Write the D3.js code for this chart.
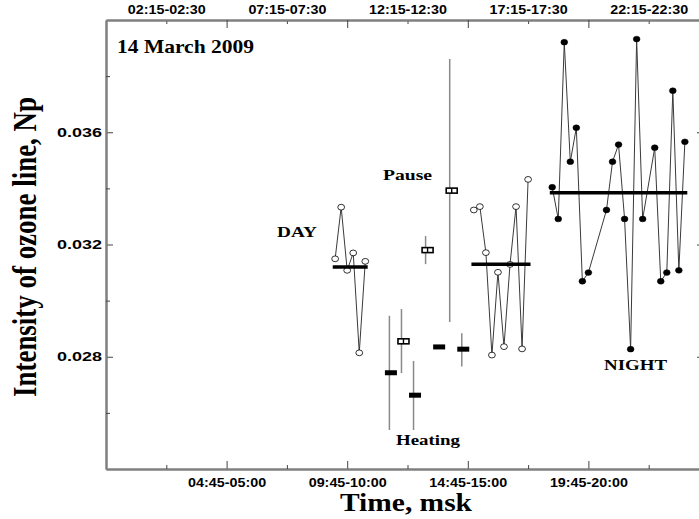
<!DOCTYPE html>
<head>
	<meta charset="utf-8">
	<script type="text/javascript" src="https://cdn.jsdelivr.net/npm/d3@7"></script>
	<style>
		body { margin: 0; background: #fff; }
	</style>
</head>
<body>
	<script type="text/javascript">

	// start of each 15-min interval, hours msk
	var dayTimes = [9.25, 9.5, 9.75, 10.0, 10.25, 10.5];
	var dayValues = [0.03149, 0.03333, 0.03108, 0.03170, 0.02814, 0.03140];
	var dayMean = 0.0312;

	var heatTimes = [11.5, 12.5, 13.5, 14.5];
	var heatValues = [0.02743, 0.02663, 0.02835, 0.02827];
	var heatLow = [0.02539, 0.02539, 0.02835, 0.02765];
	var heatHigh = [0.02946, 0.02785, 0.02835, 0.02884];

	var pauseTimes = [12.0, 13.0, 14.0];
	var pauseValues = [0.02855, 0.0318, 0.03392];
	var pauseLow = [0.02742, 0.0313, 0.02924];
	var pauseHigh = [0.0297, 0.0323, 0.03861];

	var pmTimes = [15.0, 15.25, 15.5, 15.75, 16.0, 16.25, 16.5, 16.75, 17.0, 17.25];
	var pmValues = [0.03323, 0.03335, 0.03171, 0.02806, 0.03101, 0.02836, 0.03129, 0.03335, 0.02828, 0.03432];
	var pmMean = 0.0313;

	var nightTimes = [18.25, 18.5, 18.75, 19.0, 19.25, 19.5, 19.75, 20.5, 20.75, 21.0,
		21.25, 21.5, 21.75, 22.0, 22.5, 22.75, 23.0, 23.25, 23.5, 23.75];
	var nightValues = [0.03404, 0.03291, 0.03921, 0.03495, 0.03616, 0.03069, 0.0310, 0.03323, 0.03495, 0.03556,
		0.03291, 0.02827, 0.03932, 0.03291, 0.03545, 0.03069, 0.0310, 0.03748, 0.03108, 0.03566];
	var nightMean = 0.03384;

	var bottomTicks = [4.75, 9.75, 14.75, 19.75];
	var bottomLabels = ["04:45-05:00", "09:45-10:00", "14:45-15:00", "19:45-20:00"];
	var topTicks = [2.25, 7.25, 12.25, 17.25, 22.25];
	var topLabels = ["02:15-02:30", "07:15-07:30", "12:15-12:30", "17:15-17:30", "22:15-22:30"];
	var yTicks = [0.028, 0.032, 0.036];
	var yMinor = [0.026, 0.030, 0.034, 0.038];

	var w = 699;
	var h = 519;
	var padL = 106, padT = 20, padR = 709, padB = 469;

	var svg = d3.select("body")
	.append("svg")
	.attr("width", w)
	.attr("height", h);

	var xscale = d3.scaleLinear()
	.domain([-0.25, 24.75])
	.range([padL, padR]);

	var yscale = d3.scaleLinear()
	.domain([0.024, 0.040])
	.range([padB, padT]);

	var sans = "'Liberation Sans', Arial, sans-serif";
	var serif = "'Liberation Serif', 'Times New Roman', serif";

	function styleAxis(g, len) {
		g.select(".domain").attr("stroke", "#808080").attr("stroke-width", 2);
		g.selectAll(".tick line").attr("stroke", "#444").attr("stroke-width", 1);
		g.selectAll(".tick text")
		.attr("font-family", sans)
		.attr("font-weight", "bold")
		.attr("font-size", 12)
		.attr("fill", "#000")
		.attr("textLength", len)
		.attr("lengthAdjust", "spacingAndGlyphs");
	}

	// bottom axis
	var gb = svg.append("g").attr("transform", "translate(0," + padB + ")")
	.call(d3.axisBottom(xscale).tickValues(bottomTicks)
		.tickFormat(function(d){ return bottomLabels[bottomTicks.indexOf(d)]; })
		.tickSizeInner(-8).tickSizeOuter(0).tickPadding(9));
	styleAxis(gb, 78);
	var gb2 = svg.append("g").attr("transform", "translate(0," + padB + ")")
	.call(d3.axisBottom(xscale).tickValues(topTicks).tickFormat("").tickSizeInner(-4).tickSizeOuter(0));
	styleAxis(gb2, 0);

	// top axis, labels sit on the short ticks
	var gt = svg.append("g").attr("transform", "translate(0," + padT + ")")
	.call(d3.axisTop(xscale).tickValues(topTicks)
		.tickFormat(function(d){ return topLabels[topTicks.indexOf(d)]; })
		.tickSizeInner(-4).tickSizeOuter(0).tickPadding(6));
	styleAxis(gt, 78);
	var gt2 = svg.append("g").attr("transform", "translate(0," + padT + ")")
	.call(d3.axisTop(xscale).tickValues(bottomTicks).tickFormat("").tickSizeInner(-8).tickSizeOuter(0));
	styleAxis(gt2, 0);

	// left axis
	var gl = svg.append("g").attr("transform", "translate(" + padL + ",0)")
	.call(d3.axisLeft(yscale).tickValues(yTicks).tickFormat(d3.format(".3f"))
		.tickSizeInner(-7).tickSizeOuter(0).tickPadding(4));
	styleAxis(gl, 45);
	var gl2 = svg.append("g").attr("transform", "translate(" + padL + ",0)")
	.call(d3.axisLeft(yscale).tickValues(yMinor).tickFormat("").tickSizeInner(-4).tickSizeOuter(0));
	styleAxis(gl2, 0);

	// right axis (mostly off the picture)
	var gr = svg.append("g").attr("transform", "translate(" + padR + ",0)")
	.call(d3.axisRight(yscale).tickValues(yTicks).tickFormat("").tickSizeInner(-12).tickSizeOuter(0));
	styleAxis(gr, 0);

	svg.selectAll(".tick text").filter(function(){ return this.textContent == ""; }).remove();

	var line = d3.line()
	.x(function(d){ return xscale(d[0]); })
	.y(function(d){ return yscale(d[1]); });

	function pairs(times, values) {
		return times.map(function(t, i){ return [t, values[i]]; });
	}

	function drawSeries(times, values, filled) {
		var pts = pairs(times, values);
		svg.append("path")
		.datum(pts)
		.attr("d", line)
		.attr("fill", "none")
		.attr("stroke", "#3a3a3a")
		.attr("stroke-width", 1);

		svg.append("g").selectAll("ellipse")
		.data(pts)
		.enter()
		.append("ellipse")
		.attr("cx", function(d){ return xscale(d[0]); })
		.attr("cy", function(d){ return yscale(d[1]); })
		.attr("rx", 3.4)
		.attr("ry", 2.9)
		.attr("fill", filled ? "#000" : "#fff")
		.attr("stroke", "#000")
		.attr("stroke-width", filled ? 0.5 : 0.8);
	}

	function drawMean(times, mean) {
		svg.append("line")
		.attr("x1", xscale(times[0] - 0.1))
		.attr("x2", xscale(times[times.length - 1] + 0.1))
		.attr("y1", yscale(mean))
		.attr("y2", yscale(mean))
		.attr("stroke", "#000")
		.attr("stroke-width", 3.5);
	}

	function drawErr(times, lo, hi) {
		svg.append("g").selectAll("line")
		.data(times)
		.enter()
		.append("line")
		.attr("x1", function(d){ return xscale(d); })
		.attr("x2", function(d){ return xscale(d); })
		.attr("y1", function(d, i){ return yscale(lo[i]); })
		.attr("y2", function(d, i){ return yscale(hi[i]); })
		.attr("stroke", "#8a8a8a")
		.attr("stroke-width", 1.5);
	}

	drawSeries(dayTimes, dayValues, false);
	drawMean(dayTimes, dayMean);

	drawSeries(pmTimes, pmValues, false);
	drawMean(pmTimes, pmMean);

	drawSeries(nightTimes, nightValues, true);
	drawMean(nightTimes, nightMean);

	// heating: black bars
	drawErr(heatTimes, heatLow, heatHigh);
	svg.append("g").selectAll("rect")
	.data(pairs(heatTimes, heatValues))
	.enter()
	.append("rect")
	.attr("x", function(d){ return xscale(d[0]) - 4.5; })
	.attr("y", function(d){ return yscale(d[1]) - 2.5; })
	.attr("width", 12)
	.attr("height", 5)
	.attr("fill", "#000");

	// pause: open double boxes
	drawErr(pauseTimes, pauseLow, pauseHigh);
	var pg = svg.append("g").selectAll("g")
	.data(pairs(pauseTimes, pauseValues))
	.enter()
	.append("g")
	.attr("transform", function(d){ return "translate(" + (xscale(d[0]) + 2) + "," + yscale(d[1]) + ")"; });
	pg.append("rect")
	.attr("x", -5.5)
	.attr("y", -2.5)
	.attr("width", 11)
	.attr("height", 5)
	.attr("fill", "#fff")
	.attr("stroke", "#000")
	.attr("stroke-width", 1.6);
	pg.append("line")
	.attr("x1", 0).attr("x2", 0)
	.attr("y1", -2.5).attr("y2", 2.5)
	.attr("stroke", "#000")
	.attr("stroke-width", 1.4);

	// labels
	function label(txt, x, y, size, len) {
		svg.append("text")
		.text(txt)
		.attr("x", x)
		.attr("y", y)
		.attr("font-family", serif)
		.attr("font-weight", "bold")
		.attr("font-size", size)
		.attr("textLength", len)
		.attr("lengthAdjust", "spacingAndGlyphs")
		.attr("fill", "#000");
	}

	label("14 March 2009", 117, 53, 19, 137);
	label("DAY", 277, 237, 14, 40);
	label("Pause", 383, 180, 14, 49);
	label("Heating", 396, 445, 14, 64);
	label("NIGHT", 604, 370, 14, 63);

	svg.append("text")
	.text("Time, msk")
	.attr("x", 406)
	.attr("y", 511)
	.attr("text-anchor", "middle")
	.attr("font-family", serif)
	.attr("font-weight", "bold")
	.attr("font-size", 25)
	.attr("textLength", 132)
	.attr("lengthAdjust", "spacingAndGlyphs");

	svg.append("text")
	.text("Intensity of ozone line, Np")
	.attr("transform", "translate(36,247) rotate(-90)")
	.attr("text-anchor", "middle")
	.attr("font-family", serif)
	.attr("font-weight", "bold")
	.attr("font-size", 33)
	.attr("textLength", 300)
	.attr("lengthAdjust", "spacingAndGlyphs");

	</script>
</body>
</html>
